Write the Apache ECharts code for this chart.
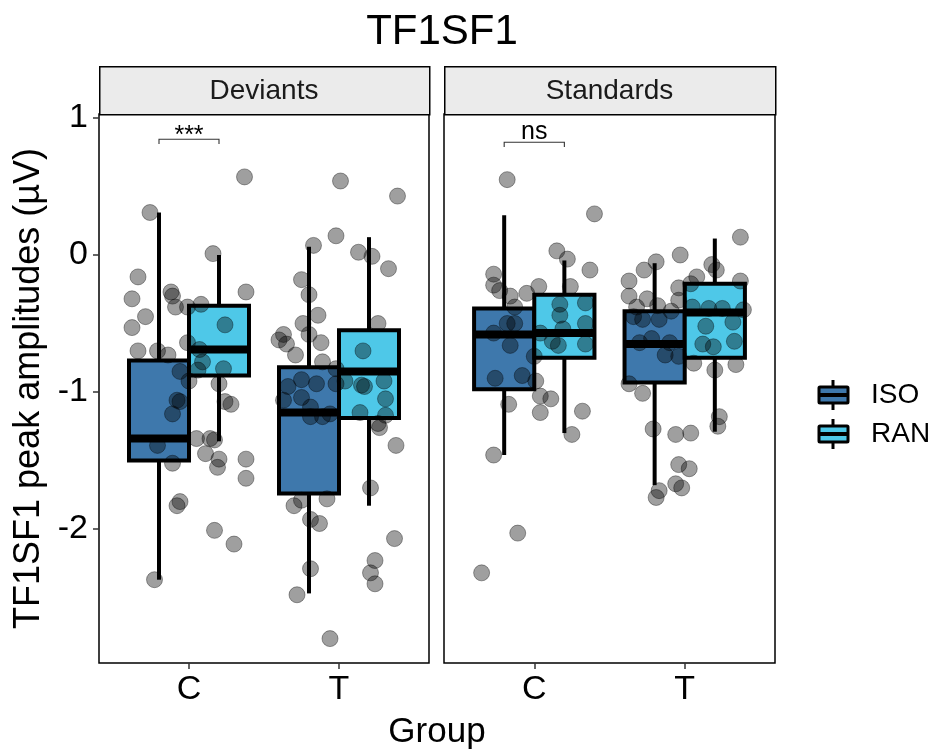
<!DOCTYPE html>
<html>
<head>
<meta charset="utf-8">
<script src="https://cdn.jsdelivr.net/npm/echarts@6/dist/echarts.min.js"></script>
<style>
  html, body { margin: 0; padding: 0; background: #ffffff; }
  #chart { width: 937px; height: 751px; }
</style>
</head>
<body>
<div id="chart"></div>
<script>
const FONT = "'Liberation Sans', Arial, sans-serif";

const categories = ['C', 'T'];
const facets = ['Deviants', 'Standards'];
const groups = ['ISO', 'RAN'];
const groupColors = ['#3E78AC', '#4EC8E8'];
const yTicks = [-2, -1, 0, 1];

// Box summaries per category (C, T): [lower whisker, Q1, median, Q3, upper whisker]
const deviantsISO  = [[-2.37, -1.50, -1.34, -0.77, 0.31], [-2.47, -1.74, -1.15, -0.82, 0.06]];
const deviantsRAN  = [[-1.36, -0.88, -0.69, -0.37, 0.00], [-1.83, -1.19, -0.85, -0.55, 0.13]];
const standardsISO = [[-1.46, -0.98, -0.58, -0.39, 0.29], [-1.68, -0.93, -0.65, -0.41, -0.06]];
const standardsRAN = [[-1.30, -0.75, -0.57, -0.29, -0.04], [-1.29, -0.75, -0.42, -0.21, 0.12]];

// Individual amplitudes: [jitter offset from category centre, amplitude]
const deviantsC = [
  [-0.26, 0.31], [0.37, 0.57], [0.16, 0.01], [-0.34, -0.16], [0.38, -0.27], [-0.38, -0.32],
  [-0.12, -0.27], [-0.11, -0.30], [-0.09, -0.38], [-0.01, -0.38], [0.08, -0.36], [-0.29, -0.45],
  [-0.38, -0.53], [0.24, -0.51], [-0.34, -0.70], [-0.21, -0.70], [-0.14, -0.73], [-0.01, -0.64],
  [0.07, -0.69], [0.09, -0.78], [-0.06, -0.85], [0.06, -0.84], [0.23, -0.83], [0.00, -0.92],
  [0.20, -0.94], [-0.08, -1.06], [-0.06, -1.07], [0.24, -1.07], [0.28, -1.09], [-0.11, -1.16],
  [0.05, -1.34], [0.14, -1.34], [0.17, -1.35], [-0.21, -1.39], [0.11, -1.45], [0.20, -1.49],
  [0.19, -1.55], [0.38, -1.49], [0.38, -1.63], [-0.11, -1.52], [-0.06, -1.80], [-0.08, -1.83],
  [0.17, -2.01], [0.30, -2.11], [-0.23, -2.37]
];
const deviantsT = [
  [0.01, 0.54], [0.39, 0.43], [-0.02, 0.14], [-0.17, 0.07], [0.13, 0.02], [0.22, -0.01],
  [0.33, -0.10], [-0.25, -0.18], [-0.20, -0.29], [-0.14, -0.44], [-0.24, -0.50], [0.26, -0.50],
  [-0.37, -0.58], [-0.40, -0.62], [-0.35, -0.65], [-0.20, -0.58], [-0.12, -0.64], [-0.29, -0.73],
  [-0.11, -0.78], [0.16, -0.70], [-0.02, -0.83], [-0.25, -0.91], [-0.15, -0.94], [-0.34, -0.96],
  [-0.02, -0.94], [0.04, -0.92], [0.15, -0.95], [0.17, -0.96], [0.30, -0.92], [-0.25, -1.04],
  [-0.37, -1.06], [-0.19, -1.11], [-0.19, -1.18], [-0.11, -1.18], [-0.06, -1.16], [0.31, -1.05],
  [0.14, -1.15], [0.31, -1.17], [0.26, -1.23], [0.27, -1.26], [0.38, -1.39], [0.21, -1.70],
  [-0.25, -1.79], [-0.30, -1.83], [-0.08, -1.78], [-0.19, -1.93], [-0.13, -1.96], [0.37, -2.07],
  [0.24, -2.23], [0.21, -2.32], [0.24, -2.40], [-0.19, -2.29], [-0.28, -2.48], [-0.06, -2.80]
];
const standardsC = [
  [-0.18, 0.55], [0.40, 0.30], [0.15, 0.03], [0.22, -0.03], [0.37, -0.11], [-0.27, -0.14],
  [-0.27, -0.22], [-0.23, -0.26], [-0.16, -0.30], [-0.05, -0.28], [0.03, -0.23], [0.24, -0.23],
  [-0.13, -0.38], [0.17, -0.36], [0.34, -0.35], [-0.18, -0.50], [-0.13, -0.50], [0.17, -0.44],
  [0.34, -0.50], [0.19, -0.54], [-0.27, -0.57], [0.04, -0.57], [-0.16, -0.66], [0.12, -0.63],
  [0.16, -0.66], [0.34, -0.65], [0.00, -0.74], [-0.26, -0.90], [-0.08, -0.88], [0.01, -0.92],
  [0.04, -1.03], [0.11, -1.05], [0.04, -1.15], [-0.17, -1.09], [0.32, -1.14], [0.25, -1.31],
  [-0.27, -1.46], [-0.11, -2.03], [-0.35, -2.32]
];
const standardsT = [
  [0.37, 0.13], [-0.03, 0.00], [-0.19, -0.05], [0.18, -0.07], [0.21, -0.11], [-0.27, -0.11],
  [0.08, -0.16], [-0.37, -0.19], [-0.04, -0.24], [0.37, -0.19], [0.04, -0.21], [-0.37, -0.30],
  [-0.25, -0.32], [-0.04, -0.33], [-0.32, -0.38], [-0.18, -0.37], [-0.09, -0.41], [0.05, -0.38],
  [0.16, -0.39], [0.25, -0.39], [0.39, -0.40], [-0.34, -0.45], [-0.28, -0.47], [-0.17, -0.47],
  [0.14, -0.52], [0.32, -0.49], [-0.30, -0.64], [-0.22, -0.61], [-0.10, -0.64], [0.12, -0.65],
  [0.19, -0.67], [0.33, -0.63], [-0.13, -0.73], [-0.04, -0.74], [0.06, -0.79], [-0.37, -0.94],
  [-0.28, -1.01], [0.20, -0.84], [0.34, -0.80], [-0.21, -1.27], [-0.06, -1.31], [0.04, -1.30],
  [0.23, -1.18], [0.22, -1.25], [-0.04, -1.53], [0.03, -1.56], [-0.17, -1.72], [-0.19, -1.77],
  [-0.06, -1.67], [-0.02, -1.70]
];

// ISO vs RAN comparison at C in each facet
const signifLabels = ['***', 'ns'];
const signifY = [0.845, 0.823];
const signifTip = 0.035;

const Y_MIN = -2.978, Y_MAX = 1.029;
const DODGE = 0.2, HALF_BOX = 0.2;

const panels = [
  { left: 99, width: 330, iso: deviantsISO, ran: deviantsRAN, points: [deviantsC, deviantsT] },
  { left: 444, width: 331, iso: standardsISO, ran: standardsRAN, points: [standardsC, standardsT] }
];
const GRID_TOP = 114, GRID_H = 549;

function boxSeries(stats, p, g) {
  const shift = g === 0 ? -DODGE : DODGE;
  return {
    type: 'custom', name: groups[g], xAxisIndex: p, yAxisIndex: p, z: 2, silent: true,
    data: stats.map((s, i) => [i + 1].concat(s)),
    renderItem: function (params, api) {
      const x = api.value(0) + shift;
      const lo = api.value(1), q1 = api.value(2), med = api.value(3), q3 = api.value(4), hi = api.value(5);
      const tl = api.coord([x - HALF_BOX, q3]);
      const br = api.coord([x + HALF_BOX, q1]);
      const pHi = api.coord([x, hi]);
      const pLo = api.coord([x, lo]);
      const mL = api.coord([x - HALF_BOX, med]);
      const mR = api.coord([x + HALF_BOX, med]);
      const cx = pHi[0];
      return {
        type: 'group',
        children: [
          { type: 'line', shape: { x1: cx, y1: pHi[1], x2: cx, y2: tl[1] }, style: { stroke: '#000', lineWidth: 4 } },
          { type: 'line', shape: { x1: cx, y1: br[1], x2: cx, y2: pLo[1] }, style: { stroke: '#000', lineWidth: 4 } },
          { type: 'rect', shape: { x: tl[0], y: tl[1], width: br[0] - tl[0], height: br[1] - tl[1] },
            style: { fill: groupColors[g], stroke: '#000', lineWidth: 4 } },
          { type: 'line', shape: { x1: mL[0], y1: mL[1], x2: mR[0], y2: mR[1] }, style: { stroke: '#000', lineWidth: 8 } }
        ]
      };
    }
  };
}

function pointSeries(p) {
  const data = [];
  panels[p].points.forEach((pts, i) => pts.forEach(d => data.push([i + 1 + d[0], d[1]])));
  return {
    type: 'scatter', xAxisIndex: p, yAxisIndex: p, z: 3, silent: true,
    symbol: 'circle', symbolSize: 16,
    itemStyle: { color: 'rgba(0,0,0,0.47)', borderColor: 'rgba(0,0,0,0.45)', borderWidth: 1 },
    data: data
  };
}

// asterisks sit high in the font, so they get pushed down a little more than letters
const labelNudge = { '***': 10, 'ns': 3 };

function bracketSeries(p) {
  return {
    type: 'custom', xAxisIndex: p, yAxisIndex: p, z: 4, silent: true,
    data: [[1 - DODGE, 1 + DODGE, signifY[p], signifTip]],
    renderItem: function (params, api) {
      const y = api.value(2), tip = api.value(3);
      const a = api.coord([api.value(0), y]);
      const b = api.coord([api.value(1), y]);
      const t = api.coord([api.value(0), y - tip]);
      const label = signifLabels[p];
      return {
        type: 'group',
        children: [
          { type: 'polyline', shape: { points: [[a[0], t[1]], a, b, [b[0], t[1]]] },
            style: { stroke: '#333', lineWidth: 1.1, fill: null } },
          { type: 'text', x: (a[0] + b[0]) / 2, y: a[1] - 1 + labelNudge[label],
            style: { text: label, fontSize: 25, fontFamily: FONT, fill: '#000',
                     align: 'center', verticalAlign: 'bottom' } }
        ]
      };
    }
  };
}

const grids = panels.map(pn => ({
  left: pn.left, top: GRID_TOP, width: pn.width, height: GRID_H,
  show: true, borderColor: '#000', borderWidth: 1.5, backgroundColor: 'transparent', containLabel: false
}));

const xAxes = panels.map((pn, p) => ({
  type: 'value', gridIndex: p, min: 0.4, max: 2.6, position: 'bottom',
  axisLine: { show: false, onZero: false },
  splitLine: { show: false },
  axisTick: { show: true, customValues: [1, 2], length: 6, lineStyle: { color: '#333', width: 1.5 } },
  axisLabel: { show: true, customValues: [1, 2], margin: 10, fontSize: 34, fontFamily: FONT, color: '#000',
               formatter: v => categories[Math.round(v) - 1] }
}));

const yAxes = panels.map((pn, p) => ({
  type: 'value', gridIndex: p, min: Y_MIN, max: Y_MAX, position: 'left',
  axisLine: { show: false, onZero: false },
  splitLine: { show: false },
  axisTick: { show: p === 0, customValues: yTicks, length: 6, lineStyle: { color: '#333', width: 1.5 } },
  axisLabel: { show: p === 0, customValues: yTicks, margin: 11, fontSize: 34, fontFamily: FONT, color: '#000' },
  name: p === 0 ? 'TF1SF1 peak amplitudes (µV)' : '',
  nameLocation: 'middle', nameGap: 52, nameRotate: 90,
  nameTextStyle: { fontSize: 36, fontFamily: FONT, color: '#000' }
}));

const series = [];
panels.forEach((pn, p) => {
  series.push(boxSeries(pn.iso, p, 0));
  series.push(boxSeries(pn.ran, p, 1));
});
panels.forEach((pn, p) => series.push(pointSeries(p)));
panels.forEach((pn, p) => series.push(bracketSeries(p)));

// facet strips, x-axis title and legend keys
const graphics = [];
panels.forEach((pn, p) => {
  graphics.push({ type: 'rect', left: pn.left, top: 66, z: 10,
    shape: { width: pn.width, height: GRID_TOP - 66 },
    style: { fill: '#EBEBEB', stroke: '#000', lineWidth: 1.5 } });
  graphics.push({ type: 'text', x: pn.left + pn.width / 2, y: 91, z: 11,
    style: { text: facets[p], fontSize: 28, fontFamily: FONT, fill: '#1a1a1a', align: 'center', verticalAlign: 'middle' } });
});
graphics.push({ type: 'text', x: 437, y: 732, z: 11,
  style: { text: 'Group', fontSize: 35, fontFamily: FONT, fill: '#000', align: 'center', verticalAlign: 'middle' } });
const legendY = [395, 434];
groups.forEach((g, i) => {
  const cy = legendY[i];
  graphics.push({ type: 'line', z: 10, shape: { x1: 833, y1: cy - 15, x2: 833, y2: cy + 15 }, style: { stroke: '#000', lineWidth: 3 } });
  graphics.push({ type: 'rect', z: 11, shape: { x: 819, y: cy - 8, width: 29, height: 16, r: 1 },
    style: { fill: groupColors[i], stroke: '#000', lineWidth: 3 } });
  graphics.push({ type: 'line', z: 12, shape: { x1: 819, y1: cy, x2: 848, y2: cy }, style: { stroke: '#000', lineWidth: 4 } });
  graphics.push({ type: 'text', x: 871, y: cy, z: 12,
    style: { text: g, fontSize: 28, fontFamily: FONT, fill: '#000', align: 'left', verticalAlign: 'middle' } });
});

const chart = echarts.init(document.getElementById('chart'), null, { renderer: 'canvas' });
chart.setOption({
  animation: false,
  backgroundColor: '#ffffff',
  title: {
    text: 'TF1SF1', left: 437, top: 6, textAlign: 'center',
    textStyle: { fontSize: 42, fontWeight: 'normal', fontFamily: FONT, color: '#000' }
  },
  grid: grids,
  xAxis: xAxes,
  yAxis: yAxes,
  series: series,
  graphic: graphics
});
</script>
</body>
</html>
